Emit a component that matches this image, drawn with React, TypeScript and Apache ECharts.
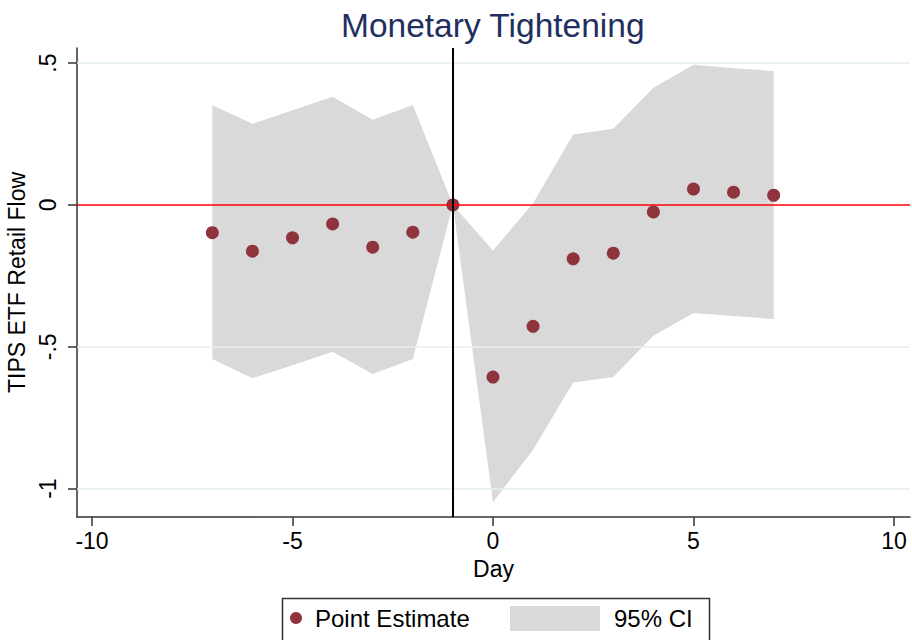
import React, { useEffect, useRef } from "react";
import * as echarts from "echarts";

const days = [-7, -6, -5, -4, -3, -2, -1, 0, 1, 2, 3, 4, 5, 6, 7];
const estimate = [-0.098, -0.163, -0.116, -0.067, -0.149, -0.096, 0, -0.607, -0.428, -0.19, -0.17, -0.025, 0.056, 0.045, 0.034];
const ciUpper = [0.351, 0.286, 0.334, 0.381, 0.3, 0.352, 0, -0.161, 0.006, 0.248, 0.268, 0.413, 0.494, 0.482, 0.472];
const ciLower = [-0.543, -0.611, -0.565, -0.518, -0.596, -0.543, 0, -1.048, -0.863, -0.626, -0.607, -0.461, -0.381, -0.392, -0.402];
const xTicks = [-10, -5, 0, 5, 10];
const yTicks = [-1, -0.5, 0, 0.5];
const yTickLabels: Record<string, string> = { "-1": "-1", "-0.5": "-.5", "0": "0", "0.5": ".5" };
const gridValues = [-1, -0.5, 0.5];

const FONT = '"Liberation Sans", Arial, sans-serif';

export default function App() {
  const ref = useRef<HTMLDivElement>(null);
  useEffect(() => {
    if (!ref.current) return;
    const chart = echarts.init(ref.current, null, { renderer: "svg" });
    const bandData = days.map((d, i) => [d, ciLower[i], ciUpper[i]]);
    const option: any = {
      animation: false,
      backgroundColor: "#ffffff",
      textStyle: { fontFamily: FONT },
      title: {
        text: "Monetary Tightening",
        left: 341,
        top: 8,
        padding: 0,
        textStyle: { fontFamily: FONT, fontSize: 33.5, fontWeight: "normal", color: "#1f3060" },
      },
      grid: { left: 77, right: 2, top: 48, bottom: 123, containLabel: false, outerBoundsMode: "none" },
      xAxis: {
        type: "value",
        min: -10.375,
        max: 10.4,
        name: "Day",
        nameLocation: "middle",
        nameGap: 40,
        nameTextStyle: { fontFamily: FONT, fontSize: 23, color: "#000" },
        axisLine: { show: true, onZero: false, lineStyle: { color: "#333", width: 1.5 } },
        axisTick: { show: true, customValues: xTicks, length: 9, lineStyle: { color: "#333", width: 1.5 } },
        axisLabel: { customValues: xTicks, margin: 12, fontFamily: FONT, fontSize: 23, color: "#000" },
        splitLine: { show: false },
      },
      yAxis: {
        type: "value",
        min: -1.1,
        max: 0.553,
        name: "TIPS ETF Retail Flow",
        nameLocation: "middle",
        nameGap: 32,
        nameTextStyle: { fontFamily: FONT, fontSize: 23, color: "#000" },
        axisLine: { show: true, onZero: false, lineStyle: { color: "#333", width: 1.5 } },
        axisTick: { show: true, customValues: yTicks, length: 9, lineStyle: { color: "#333", width: 1.5 } },
        axisLabel: {
          customValues: yTicks,
          rotate: 90,
          margin: 18,
          fontFamily: FONT,
          fontSize: 23,
          color: "#000",
          formatter: (v: number) => yTickLabels[String(v)] ?? String(v),
        },
        splitLine: { show: false },
      },
      legend: [
        {
          data: ["Point Estimate"],
          left: 290,
          top: 606,
          padding: 0,
          itemWidth: 28,
          itemHeight: 12,
          textStyle: { fontFamily: FONT, fontSize: 24, color: "#000" },
        },
        {
          data: [{ name: "95% CI", icon: "rect", itemStyle: { color: "#d9d9d9", borderWidth: 0 } }],
          left: 510,
          top: 606,
          padding: 0,
          itemWidth: 90,
          itemHeight: 25,
          textStyle: { fontFamily: FONT, fontSize: 24, color: "#000", padding: [0, 0, 0, 9] },
        },
      ],
      graphic: [
        {
          type: "rect",
          left: 280,
          top: 596,
          shape: { width: 427, height: 60 },
          style: { fill: "none", stroke: "#333", lineWidth: 1.5 },
          z: 0,
        },
      ],
      series: [
        {
          name: "grid",
          type: "line",
          data: [],
          z: 1,
          silent: true,
          markLine: {
            silent: true,
            symbol: "none",
            label: { show: false },
            lineStyle: { color: "#e6eff2", width: 1.5, type: "solid" },
            data: gridValues.map((v) => ({ yAxis: v })),
          },
        },
        {
          name: "zero",
          type: "line",
          data: [],
          z: 1,
          silent: true,
          markLine: {
            silent: true,
            symbol: "none",
            label: { show: false },
            lineStyle: { color: "#ff0000", width: 1.5, type: "solid" },
            data: [{ yAxis: 0 }],
          },
        },
        {
          name: "95% CI",
          type: "custom",
          data: bandData,
          encode: { x: 0, y: [1, 2] },
          itemStyle: { color: "#d9d9d9" },
          z: 2,
          silent: true,
          renderItem: (params: any, api: any) => {
            if (params.dataIndex !== 0) return null;
            const pts: number[][] = [];
            for (let i = 0; i < bandData.length; i++) pts.push(api.coord([bandData[i][0], bandData[i][2]]));
            for (let i = bandData.length - 1; i >= 0; i--) pts.push(api.coord([bandData[i][0], bandData[i][1]]));
            return {
              type: "polygon",
              shape: { points: pts },
              style: { fill: "#d9d9d9", stroke: "none" },
            };
          },
        },
        {
          name: "event",
          type: "line",
          data: [],
          z: 3,
          silent: true,
          markLine: {
            silent: true,
            symbol: "none",
            label: { show: false },
            lineStyle: { color: "#000", width: 2, type: "solid" },
            data: [{ xAxis: -1 }],
          },
        },
        {
          name: "Point Estimate",
          type: "scatter",
          data: days.map((d, i) => [d, estimate[i]]),
          symbol: "circle",
          symbolSize: 13,
          itemStyle: { color: "#8f333d", opacity: 1 },
          z: 4,
        },
      ],
    };
    chart.setOption(option);
    return () => chart.dispose();
  }, []);
  return <div ref={ref} style={{ width: 912, height: 640, position: "absolute", left: 0, top: 0 }} />;
}
